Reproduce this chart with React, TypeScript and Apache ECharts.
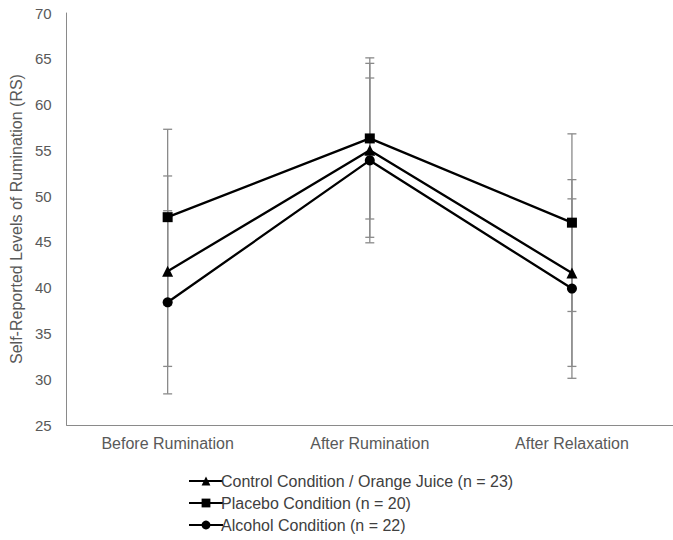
import React, { useEffect, useRef } from "react";
import * as echarts from "echarts";

const categories = ["Before Rumination", "After Rumination", "After Relaxation"];
const seriesNames = [
  "Control Condition / Orange Juice (n = 23)",
  "Placebo Condition (n = 20)",
  "Alcohol Condition (n = 22)",
];
const controlMean = [41.8, 55.0, 41.6];
const controlErr = [10.4, 9.5, 10.2];
const placeboMean = [47.7, 56.3, 47.1];
const placeboErr = [9.6, 8.8, 9.7];
const alcoholMean = [38.4, 53.9, 39.9];
const alcoholErr = [10.0, 9.0, 9.8];
const yTicks = [25, 30, 35, 40, 45, 50, 55, 60, 65, 70];

const FONT = "'Liberation Sans', Arial, sans-serif";

function errData(mean: number[], err: number[]) {
  return mean.map((m, i) => [i, m - err[i], m + err[i]]);
}

const renderErr = (params: any, api: any) => {
  const x = api.value(0);
  const lo = api.coord([x, api.value(1)]);
  const hi = api.coord([x, api.value(2)]);
  const hw = 4.5;
  const style = { stroke: "#8a8a8a", lineWidth: 1.3 };
  return {
    type: "group",
    children: [
      { type: "line", shape: { x1: lo[0], y1: lo[1], x2: hi[0], y2: hi[1] }, style },
      { type: "line", shape: { x1: lo[0] - hw, y1: lo[1], x2: lo[0] + hw, y2: lo[1] }, style },
      { type: "line", shape: { x1: hi[0] - hw, y1: hi[1], x2: hi[0] + hw, y2: hi[1] }, style },
    ],
  };
};

export default function App() {
  const ref = useRef<HTMLDivElement>(null);
  useEffect(() => {
    if (!ref.current) return;
    const chart = echarts.init(ref.current, null, { renderer: "svg" });
    const lineSeries = (name: string, data: number[], symbol: string, size: number) => ({
      type: "line",
      name,
      data,
      symbol,
      symbolSize: size,
      z: 5,
      lineStyle: { color: "#000", width: 2.3 },
      itemStyle: { color: "#000" },
    });
    const errSeries = (mean: number[], err: number[]) => ({
      type: "custom",
      renderItem: renderErr,
      data: errData(mean, err),
      z: 2,
      silent: true,
    });
    chart.setOption({
      animation: false,
      backgroundColor: "#fff",
      textStyle: { fontFamily: FONT },
      grid: { left: 60, right: -7, top: 13, bottom: 115, containLabel: false },
      legend: {
        orient: "vertical",
        left: 183,
        top: 468,
        itemWidth: 34,
        itemHeight: 11,
        itemGap: 6,
        data: seriesNames,
        textStyle: { fontFamily: FONT, fontSize: 16, color: "#404040", padding: [0, 0, 0, -7] },
      },
      xAxis: {
        type: "category",
        data: categories,
        boundaryGap: true,
        axisLine: { lineStyle: { color: "#8a8a8a", width: 1 } },
        axisTick: { show: false },
        axisLabel: { fontFamily: FONT, fontSize: 16, color: "#595959", margin: 10 },
      },
      yAxis: {
        type: "value",
        min: yTicks[0],
        max: yTicks[yTicks.length - 1],
        interval: 5,
        name: "Self-Reported Levels of Rumination (RS)",
        nameLocation: "middle",
        nameGap: 33,
        nameTextStyle: { fontFamily: FONT, fontSize: 16, color: "#595959" },
        axisLine: { show: true, lineStyle: { color: "#8a8a8a", width: 1 } },
        axisTick: { show: false },
        splitLine: { show: false },
        axisLabel: { fontFamily: FONT, fontSize: 15, color: "#595959", margin: 15 },
      },
      series: [
        errSeries(controlMean, controlErr),
        errSeries(placeboMean, placeboErr),
        errSeries(alcoholMean, alcoholErr),
        lineSeries(seriesNames[0], controlMean, "triangle", 11),
        lineSeries(seriesNames[1], placeboMean, "rect", 10),
        lineSeries(seriesNames[2], alcoholMean, "circle", 10),
      ],
    });
    return () => chart.dispose();
  }, []);
  return (
    <div
      ref={ref}
      style={{ position: "absolute", left: 0, top: 0, width: 673, height: 540 }}
    />
  );
}
